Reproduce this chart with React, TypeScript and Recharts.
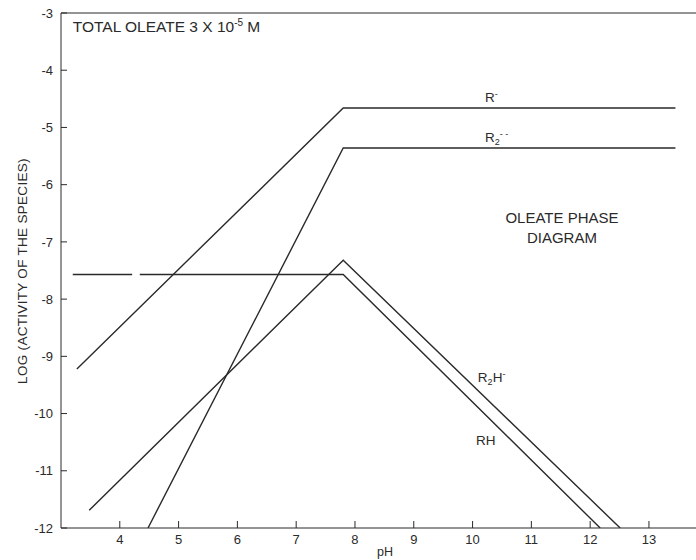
import React from 'react';
import { LineChart, Line, XAxis, YAxis, ReferenceLine, ReferenceDot } from 'recharts';

const FONT = '"Liberation Sans", Arial, Helvetica, sans-serif';
const INK = '#2a2a2a';

// pH ticks and log ticks
const xTicks = [4, 5, 6, 7, 8, 9, 10, 11, 12, 13];
const yTicks = [-3, -4, -5, -6, -7, -8, -9, -10, -11, -12];

// R-
const rMinusPH = [3.27, 7.8, 13.45];
const rMinusLog = [-9.22, -4.66, -4.66];
// R2--
const r2PH = [4.48, 7.8, 13.45];
const r2Log = [-12, -5.36, -5.36];
// RH (with break in the printed line)
const rhPH = [3.2, 4.21, 4.27, 4.34, 7.8, 12.17];
const rhLog: (number | null)[] = [-7.57, -7.57, null, -7.57, -7.57, -12];
// R2H-
const r2hPH = [3.48, 7.8, 12.51];
const r2hLog = [-11.69, -7.32, -12];

const toData = (xs: number[], ys: (number | null)[]) => xs.map((x, i) => ({ x, y: ys[i] }));

const series = [
  { name: 'R-', data: toData(rMinusPH, rMinusLog) },
  { name: 'R2--', data: toData(r2PH, r2Log) },
  { name: 'RH', data: toData(rhPH, rhLog) },
  { name: 'R2H-', data: toData(r2hPH, r2hLog) },
];

const txt = { fontFamily: FONT, fill: INK } as const;

const mk = (render: (x: number, y: number) => React.ReactNode) => (p: any) => {
  const vb = p.viewBox || {};
  return <g>{render(vb.x, vb.y)}</g>;
};

export default function App() {
  return (
    <div style={{ position: 'absolute', left: 0, top: 0, background: '#fff' }}>
      <LineChart width={696} height={560} margin={{ top: 13, right: 0, bottom: 0, left: 0 }}>
        <XAxis
          type="number"
          dataKey="x"
          domain={[3, 13.8]}
          ticks={xTicks}
          allowDataOverflow
          height={32}
          tickSize={-7}
          tickMargin={14}
          stroke={INK}
          tick={{ fontSize: 13, fill: INK, fontFamily: FONT }}
          label={{
            content: mk(() => (
              <text x={377} y={556} style={{ ...txt, fontSize: 12.5 }}>pH</text>
            )),
          }}
        />
        <YAxis
          type="number"
          dataKey="y"
          domain={[-12, -3]}
          ticks={yTicks}
          allowDataOverflow
          width={61}
          tickSize={-6}
          tickMargin={14}
          stroke={INK}
          tick={{ fontSize: 13, fill: INK, fontFamily: FONT }}
          label={{
            content: mk(() => (
              <text
                x={22}
                y={271}
                transform="rotate(-90, 22, 271)"
                textAnchor="middle"
                dominantBaseline="central"
                style={{ ...txt, fontSize: 13.5, letterSpacing: 0.3 }}
              >
                LOG (ACTIVITY OF THE SPECIES)
              </text>
            )),
          }}
        />
        <ReferenceLine y={-3} stroke={INK} strokeWidth={1.2} />
        {series.map((s) => (
          <Line
            key={s.name}
            data={s.data}
            dataKey="y"
            type="linear"
            stroke={INK}
            strokeWidth={1.4}
            dot={false}
            activeDot={false}
            connectNulls={false}
            isAnimationActive={false}
          />
        ))}
        <ReferenceDot
          x={3.2}
          y={-3.33}
          r={0}
          fill="none"
          stroke="none"
          label={{
            content: mk((x, y) => (
              <text x={x} y={y} style={{ ...txt, fontSize: 15.5 }}>
                TOTAL OLEATE 3 X 10
                <tspan dy={-6} fontSize={10}>-5</tspan>
                <tspan dy={6}> M</tspan>
              </text>
            )),
          }}
        />
        <ReferenceDot
          x={10.21}
          y={-4.556}
          r={0}
          fill="none"
          stroke="none"
          label={{
            content: mk((x, y) => (
              <text x={x} y={y} style={{ ...txt, fontSize: 13.5 }}>
                R<tspan dy={-5} fontSize={9}>-</tspan>
              </text>
            )),
          }}
        />
        <ReferenceDot
          x={10.21}
          y={-5.255}
          r={0}
          fill="none"
          stroke="none"
          label={{
            content: mk((x, y) => (
              <text x={x} y={y} style={{ ...txt, fontSize: 13.5 }}>
                R<tspan dy={3} fontSize={9}>2</tspan>
                <tspan dy={-8} fontSize={9}>- -</tspan>
              </text>
            )),
          }}
        />
        <ReferenceDot
          x={11.52}
          y={-6.67}
          r={0}
          fill="none"
          stroke="none"
          label={{
            content: mk((x, y) => (
              <g>
                <text x={x} y={y} textAnchor="middle" style={{ ...txt, fontSize: 15 }}>
                  OLEATE PHASE
                </text>
                <text x={x} y={y + 20} textAnchor="middle" style={{ ...txt, fontSize: 15 }}>
                  DIAGRAM
                </text>
              </g>
            )),
          }}
        />
        <ReferenceDot
          x={10.09}
          y={-9.45}
          r={0}
          fill="none"
          stroke="none"
          label={{
            content: mk((x, y) => (
              <text x={x} y={y} style={{ ...txt, fontSize: 13.5 }}>
                R<tspan dy={3} fontSize={9}>2</tspan>
                <tspan dy={-3}>H</tspan>
                <tspan dy={-5} fontSize={9}>-</tspan>
              </text>
            )),
          }}
        />
        <ReferenceDot
          x={10.06}
          y={-10.55}
          r={0}
          fill="none"
          stroke="none"
          label={{
            content: mk((x, y) => (
              <text x={x} y={y} style={{ ...txt, fontSize: 13.5 }}>
                RH
              </text>
            )),
          }}
        />
      </LineChart>
    </div>
  );
}
